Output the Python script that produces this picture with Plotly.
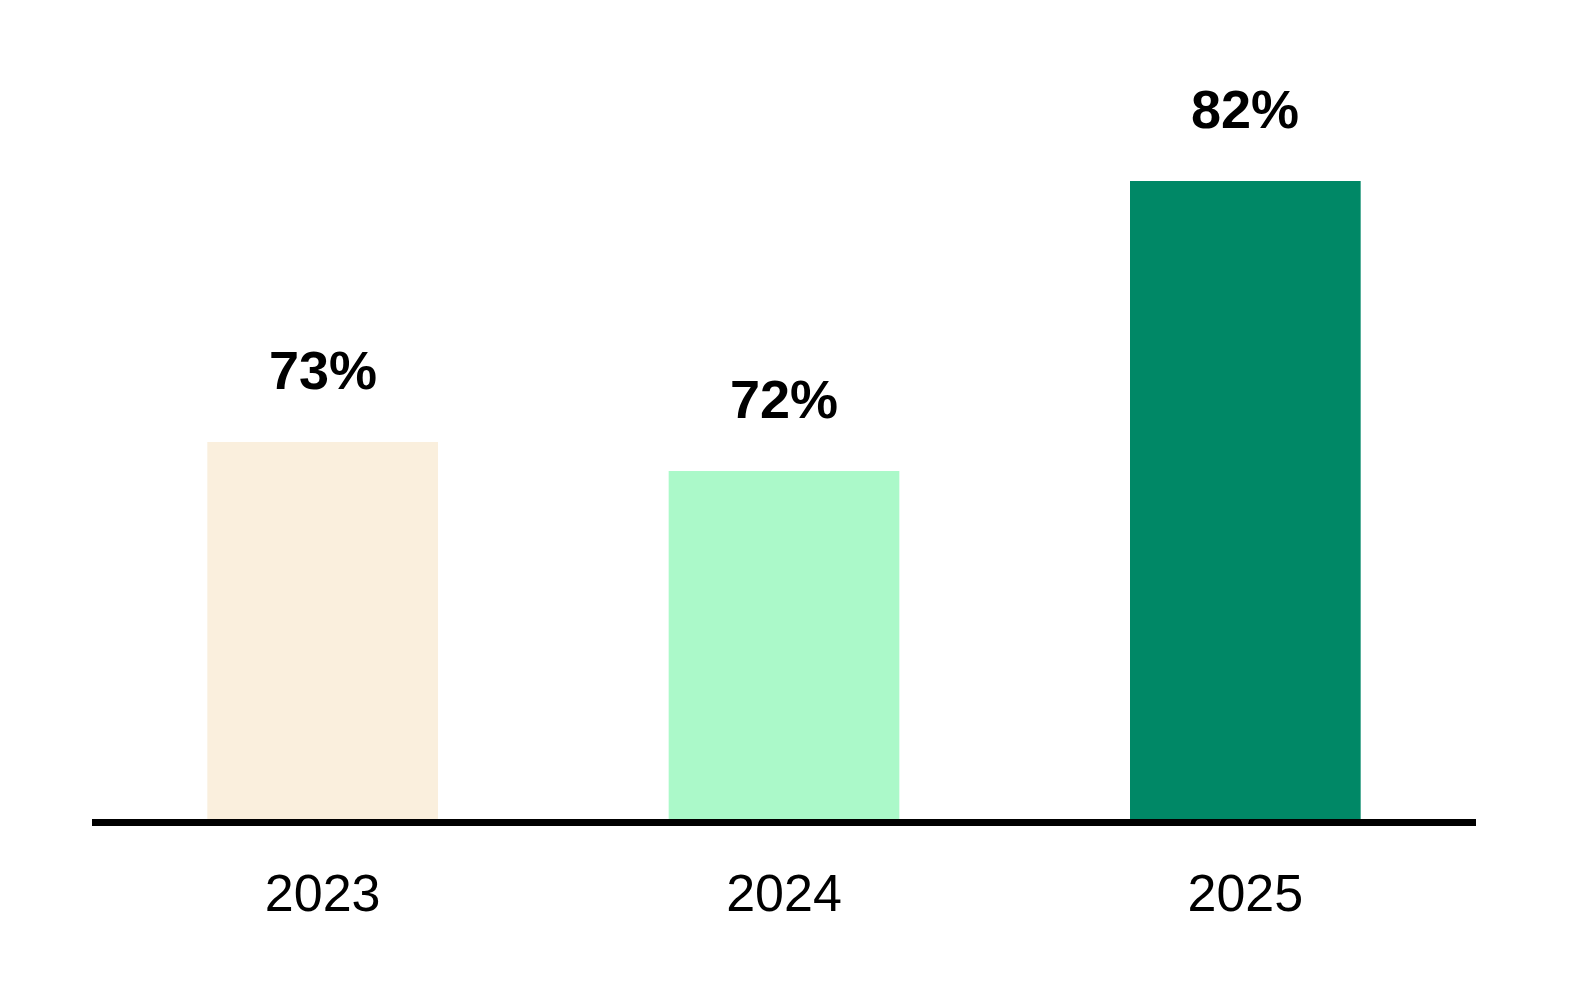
import plotly.graph_objects as go

years = ["2023", "2024", "2025"]
values = [73, 72, 82]
labels = ["73%", "72%", "82%"]
colors = ["#FAEFDD", "#ABF9C9", "#008866"]

FONT = "Arial, 'Liberation Sans', sans-serif"

fig = go.Figure(go.Bar(
    x=years, y=values, marker=dict(color=colors, line=dict(width=0)),
    hoverinfo="skip",
))

for i, (v, t) in enumerate(zip(values, labels)):
    fig.add_annotation(x=i, y=v, xref="x", yref="y", text=f"<b>{t}</b>", showarrow=False,
                       yanchor="bottom", yshift=40,
                       font=dict(family=FONT, size=54, color="#000"))

y0 = 60
ppu = 29.0
W, H = 1559, 968
top, bottom = 42, 157
plot_h = H - top - bottom

fig.update_layout(
    width=W, height=H,
    margin=dict(l=84, r=91, t=top, b=bottom),
    paper_bgcolor="white", plot_bgcolor="white",
    bargap=0.5, showlegend=False,
    xaxis=dict(type="category", range=[-0.5, 2.5], showline=True, linecolor="#000",
               linewidth=7, showgrid=False, ticks="", zeroline=False,
               tickfont=dict(family=FONT, size=52, color="#000"), ticklabelstandoff=23),
    yaxis=dict(range=[y0, y0 + plot_h / ppu], visible=False, showgrid=False),
)

fig.write_html("out.html")
